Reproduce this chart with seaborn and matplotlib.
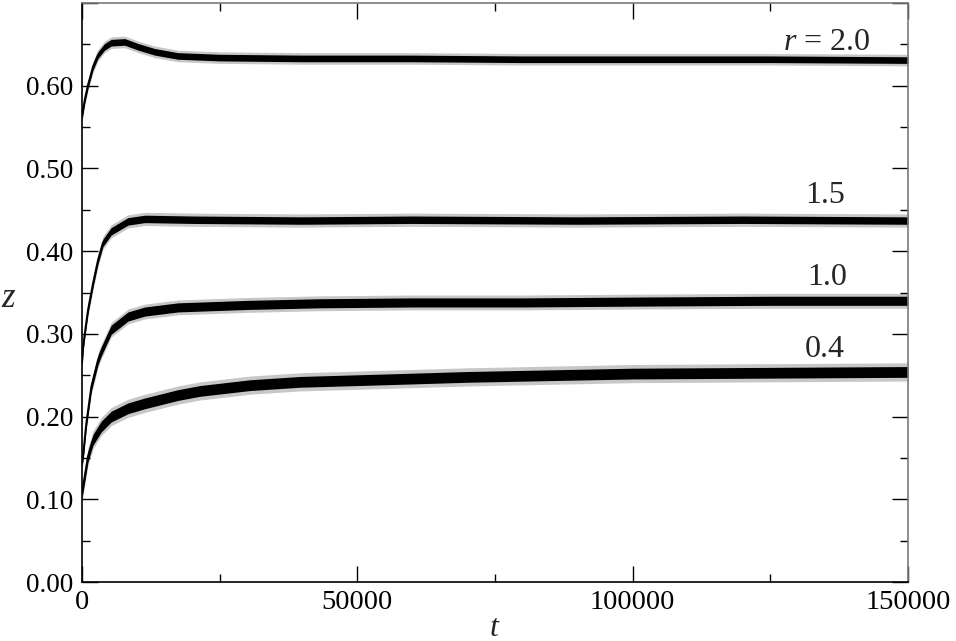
import numpy as np
import pandas as pd
import seaborn as sns
import matplotlib
matplotlib.use("Agg")
import matplotlib.pyplot as plt
from matplotlib.ticker import MultipleLocator, FuncFormatter

# values
r_labels = ["0.4", "1.0", "1.5", "2.0"]

t_r04 = [0, 180, 1090, 2000, 3500, 5300, 8350, 11400, 17400, 21400, 30500, 39600, 55000, 70000, 85000, 100000, 125000, 150000]
z_r04 = [0.108, 0.115, 0.152, 0.172, 0.188, 0.200, 0.210, 0.216, 0.226, 0.231, 0.238, 0.242, 0.245, 0.248, 0.250, 0.252, 0.253, 0.254]

t_r10 = [0, 180, 780, 1690, 2900, 3450, 5300, 8350, 11400, 17400, 30000, 43200, 60000, 80000, 100000, 125000, 150000]
z_r10 = [0.145, 0.152, 0.192, 0.236, 0.268, 0.278, 0.305, 0.321, 0.327, 0.332, 0.335, 0.337, 0.338, 0.338, 0.339, 0.340, 0.340]

t_r15 = [0, 180, 490, 1090, 2000, 2900, 3800, 5300, 8350, 11400, 20000, 40000, 60000, 90000, 120000, 150000]
z_r15 = [0.265, 0.283, 0.300, 0.329, 0.361, 0.389, 0.410, 0.424, 0.436, 0.439, 0.438, 0.437, 0.438, 0.437, 0.438, 0.437]

t_r20 = [0, 500, 1090, 2000, 2900, 4100, 5300, 7750, 10200, 13200, 17400, 25000, 40000, 60000, 80000, 100000, 125000, 150000]
z_r20 = [0.563, 0.583, 0.601, 0.623, 0.637, 0.647, 0.652, 0.653, 0.647, 0.641, 0.636, 0.634, 0.633, 0.633, 0.632, 0.632, 0.632, 0.631]

# half-width of the fluctuation band (solid core / occasional spikes)
noise_core = [0.0065, 0.0055, 0.0045, 0.004]
noise_spike = [0.011, 0.009, 0.008, 0.007]

curve_labels = ["$r$ = 2.0", "1.5", "1.0", "0.4"]
label_t = [127300, 131300, 131700, 131300]
label_z = [0.643, 0.458, 0.359, 0.272]

series_t = [t_r04, t_r10, t_r15, t_r20]
series_z = [z_r04, z_r10, z_r15, z_r20]

df = pd.concat(
    [pd.DataFrame({"t": t, "z": z, "r": r}) for t, z, r in zip(series_t, series_z, r_labels)],
    ignore_index=True,
)

sns.set_theme(style="ticks", font="Liberation Serif")
plt.rcParams["font.family"] = ["Liberation Serif", "DejaVu Serif"]
plt.rcParams["mathtext.fontset"] = "custom"
plt.rcParams["mathtext.rm"] = "Liberation Serif"
plt.rcParams["mathtext.it"] = "Liberation Serif:italic"

fig = plt.figure(figsize=(9.56, 6.41), dpi=100)
ax = fig.add_axes([0.0858, 0.092, 0.864, 0.9033])

for i, r in enumerate(r_labels):
    sub = df[df["r"] == r]
    ax.fill_between(sub["t"], sub["z"] - noise_spike[i], sub["z"] + noise_spike[i],
                    color="black", alpha=0.22, linewidth=0)
    ax.fill_between(sub["t"], sub["z"] - noise_core[i], sub["z"] + noise_core[i],
                    color="black", linewidth=0)

sns.lineplot(data=df, x="t", y="z", hue="r", palette=["black"] * 4,
             linewidth=1.4, legend=False, ax=ax, estimator=None, sort=False)

ax.set_xlim(0, 150000)
ax.set_ylim(0, 0.70)
ax.xaxis.set_major_locator(MultipleLocator(50000))
ax.xaxis.set_minor_locator(MultipleLocator(25000))
ax.yaxis.set_major_locator(MultipleLocator(0.1))
ax.yaxis.set_minor_locator(MultipleLocator(0.05))
ax.yaxis.set_major_formatter(FuncFormatter(lambda v, p: "" if v > 0.65 else f"{v:.2f}"))

ax.tick_params(which="both", direction="in", top=True, right=True,
               labelsize=19.5, colors="black")
ax.tick_params(axis="x", labelsize=20.5)
ax.tick_params(which="major", length=11.5, width=1.0)
ax.tick_params(which="minor", length=5.8, width=1.0)
ax.tick_params(axis="x", pad=6)
ax.tick_params(axis="y", pad=6)

grey = "#7a7a7a"
for side in ["top", "right"]:
    ax.spines[side].set_color(grey)
for side in ["left", "bottom"]:
    ax.spines[side].set_color("black")
for sp in ax.spines.values():
    sp.set_linewidth(1.2)
for tk in ax.xaxis.get_major_ticks() + ax.xaxis.get_minor_ticks():
    tk.tick2line.set_color(grey)
for tk in ax.yaxis.get_major_ticks() + ax.yaxis.get_minor_ticks():
    tk.tick2line.set_color(grey)

ax.set_xlabel("$t$", fontsize=23)
ax.set_ylabel("$z$", fontsize=25, rotation=0, va="center", ha="center")
ax.xaxis.set_label_coords(0.5, -0.056)
ax.yaxis.set_label_coords(-0.089, 0.49)

for txt, tx, tz in zip(curve_labels, label_t, label_z):
    ax.text(tx, tz, txt, fontsize=23, ha="left", va="baseline")

fig.savefig("out.png", dpi=100, facecolor="white")
